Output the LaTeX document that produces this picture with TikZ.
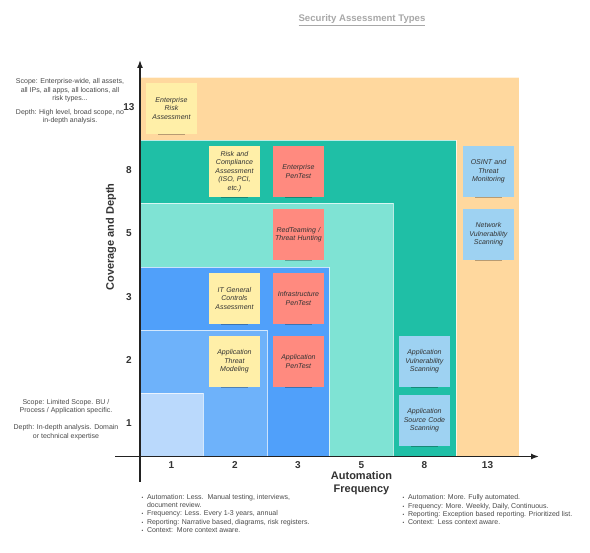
\documentclass[tikz,border=0pt]{standalone}
\usepackage{fontspec}
\setmainfont{Liberation Sans}
\usetikzlibrary{arrows.meta}
\definecolor{orangeA}{HTML}{FFD89E}
\definecolor{tealD}{HTML}{1FBFA6}
\definecolor{tealL}{HTML}{7FE3D4}
\definecolor{blueC}{HTML}{50A0FA}
\definecolor{blueB}{HTML}{6EB2FA}
\definecolor{blueA}{HTML}{BAD9FC}
\definecolor{noteY}{HTML}{FFEFA8}
\definecolor{noteR}{HTML}{FF8A7F}
\definecolor{noteB}{HTML}{9ED2F2}
\definecolor{txt}{HTML}{333333}
\definecolor{smalltxt}{HTML}{4A4A4A}
\definecolor{ttl}{HTML}{A8A8A8}
\definecolor{axis}{HTML}{222222}
\newcommand\notefont{\fontsize{7}{8.4}\selectfont\itshape}
\newcommand\smallfont{\fontsize{7}{8.3}\selectfont}
\newcommand\shadowunder[1]{\fill[black,opacity=0.28] ([xshift=12pt]#1.south west) rectangle ([xshift=-12pt,yshift=-1.3pt]#1.south east);}
\newcommand\bul{\makebox[5.3pt][l]{\fontsize{5}{5}\selectfont •}}
\tikzset{
  region/.style={draw=white, draw opacity=0.7, line width=0.7pt},
  note/.style={anchor=north west, minimum width=50.5pt, minimum height=50.5pt,
    inner sep=1pt, text width=48pt, align=center, font=\notefont, text=txt},
  yellownote/.style={note, fill=noteY},
  rednote/.style={note, fill=noteR},
  bluenote/.style={note, fill=noteB},
  ticklab/.style={font=\fontsize{10}{12}\selectfont\bfseries, text=txt, inner sep=0pt},
  axisline/.style={line width=1.5pt, draw=axis},
  sidetext/.style={font=\smallfont, text=smalltxt, align=center, inner sep=0pt},
  bullets/.style={font=\smallfont, text=smalltxt, align=left, inner sep=0pt, anchor=north west},
}
\begin{document}
\begin{tikzpicture}[x=1pt,y=-1pt]
\useasboundingbox (0,0) rectangle (590,553);
\fill[white] (0,0) rectangle (590,553);

% regions
\fill[orangeA,region] (140,77) rectangle (519,456.5);
\fill[tealD,region] (140,140) rectangle (456,456.5);
\fill[tealL,region] (140,203) rectangle (393,456.5);
\fill[blueC,region] (140,267) rectangle (329,456.5);
\fill[blueB,region] (140,330) rectangle (267,456.5);
\fill[blueA,region] (140,393) rectangle (203,456.5);

% notes
\node[yellownote] (era) at (146,83) {Enterprise\\Risk\\Assessment};
\node[yellownote] (rca) at (209,146) {Risk and\\Compliance\\Assessment\\(ISO, PCI,\\etc.)};
\node[rednote] (ept) at (273,146) {Enterprise\\PenTest};
\node[rednote] (rth) at (273,209) {RedTeaming /\\Threat Hunting};
\node[yellownote] (itgc) at (209,273) {IT General\\Controls\\Assessment};
\node[rednote] (ipt) at (273,273) {Infrastructure\\PenTest};
\node[yellownote] (atm) at (209,336) {Application\\Threat\\Modeling};
\node[rednote] (apt) at (273,336) {Application\\PenTest};
\node[bluenote] (osint) at (463,146) {OSINT and\\Threat\\Monitoring};
\node[bluenote] (nvs) at (463,209) {Network\\Vulnerability\\Scanning};
\node[bluenote] (avs) at (399,336) {Application\\Vulnerability\\Scanning};
\node[bluenote] (ascs) at (399,395) {Application\\Source Code\\Scanning};
\foreach \n in {era,rca,ept,rth,itgc,ipt,atm,apt,osint,nvs,avs,ascs} {\shadowunder{\n}}

% axes
\coordinate (ytop) at (140,60);
\coordinate (ybot) at (140,482);
\coordinate (xleft) at (115,456.5);
\coordinate (xright) at (539,456.5);
\draw[axisline,-{Latex[length=8pt,width=6pt]}] (ybot) -- (ytop);
\draw[axisline,-{Latex[length=8pt,width=6pt]}] (xleft) -- (xright);

% tick labels
\node[ticklab] (x1) at (171.5,465) {1};
\node[ticklab] (x2) at (235,465) {2};
\node[ticklab] (x3) at (298,465) {3};
\node[ticklab] (x5) at (361.5,465) {5};
\node[ticklab] (x8) at (424.5,465) {8};
\node[ticklab] (x13) at (487.5,465) {13};
\node[ticklab] (y1) at (129,423) {1};
\node[ticklab] (y2) at (129,360) {2};
\node[ticklab] (y3) at (129,297) {3};
\node[ticklab] (y5) at (129,233.5) {5};
\node[ticklab] (y8) at (129,170) {8};
\node[ticklab] (y13) at (129,107) {13};

% axis titles
\node[font=\fontsize{11}{13.3}\selectfont\bfseries, text=txt, align=center, inner sep=0pt] (xlab) at (361.5,483.5) {Automation\\Frequency};
\node[font=\fontsize{11}{13.3}\selectfont\bfseries, text=txt, rotate=90, inner sep=0pt] (ylab) at (111,237) {Coverage and Depth};

% title
\node[font=\fontsize{9.6}{11}\selectfont\bfseries, text=ttl, inner sep=0pt] (title) at (362,20) {\underline{Security Assessment Types}};

% side texts
\node[sidetext] (toptext) at (70,101.5) {Scope: Enterprise-wide, all assets,\\all IPs, all apps, all locations, all\\risk types...\\[6pt]Depth: High level, broad scope, no\\in-depth analysis.};
\node[sidetext] (bottext) at (66,419.5) {Scope: Limited Scope. BU /\\Process / Application specific.\\[8.5pt]Depth: In-depth analysis. Domain\\or technical expertise};

% bullet lists
\node[bullets] (leftlist) at (141.5,494) {\bul Automation: Less.\ \ Manual testing, interviews,\\\hspace*{5.3pt}document review.\\\bul Frequency: Less. Every 1-3 years, annual\\\bul Reporting: Narrative based, diagrams, risk registers.\\\bul Context:\ \ More context aware.};
\node[bullets] (rightlist) at (402.5,494.5) {\bul Automation: More. Fully automated.\\\bul Frequency: More. Weekly, Daily, Continuous.\\\bul Reporting: Exception based reporting. Prioritized list.\\\bul Context:\ \ Less context aware.};
\end{tikzpicture}
\end{document}
